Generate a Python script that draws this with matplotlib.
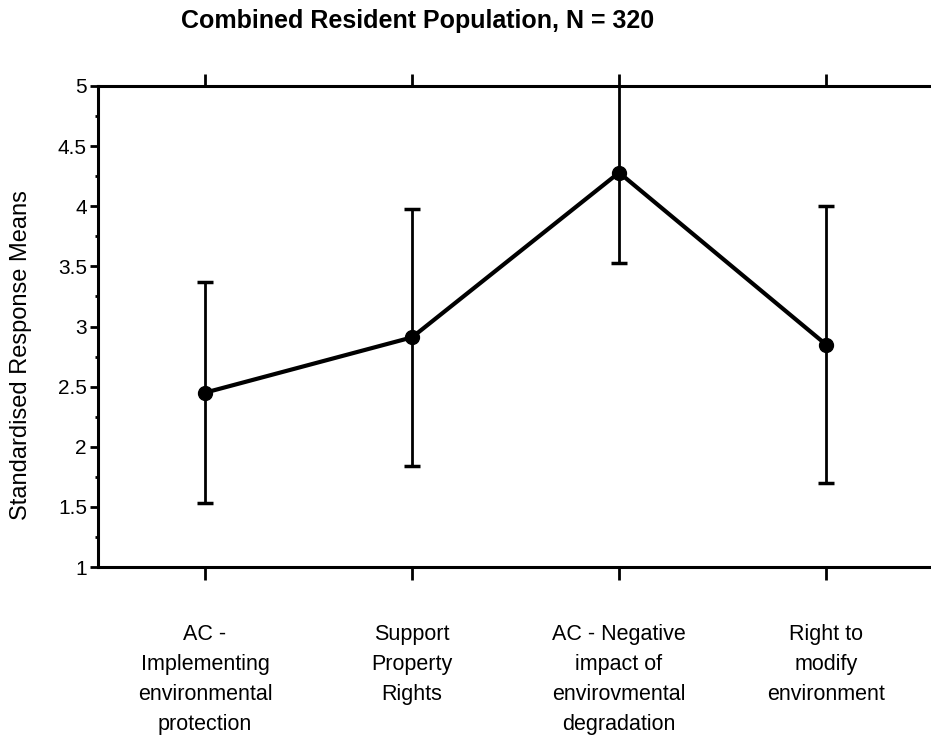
import matplotlib

matplotlib.use("Agg")
import matplotlib.pyplot as plt
from matplotlib.ticker import MultipleLocator

# data
categories = [
    "AC -\nImplementing\nenvironmental\nprotection",
    "Support\nProperty\nRights",
    "AC - Negative\nimpact of\nenvirovmental\ndegradation",
    "Right to\nmodify\nenvironment",
]
means = [2.45, 2.91, 4.28, 2.85]
err_sd = [0.92, 1.07, 0.75, 1.15]
y_ticks = [1, 1.5, 2, 2.5, 3, 3.5, 4, 4.5, 5]
y_labels = ["1", "1.5", "2", "2.5", "3", "3.5", "4", "4.5", "5"]

plt.rcParams["font.family"] = ["Liberation Sans", "DejaVu Sans"]

fig = plt.figure(figsize=(9.31, 7.42), dpi=100)
ax = fig.add_axes([0.1053, 0.2358, 0.8947, 0.6483])

x = list(range(len(categories)))
ax.errorbar(x, means, yerr=err_sd, color="black", lw=3, marker="o", ms=10,
            ecolor="black", elinewidth=2, capsize=5.5, capthick=2.5)

ax.set_xlim(-0.517, 3.507)
ax.set_ylim(1, 5)

ax.set_yticks(y_ticks)
ax.set_yticklabels(y_labels, fontsize=15)
ax.yaxis.set_minor_locator(MultipleLocator(0.25))
ax.tick_params(axis="y", which="major", direction="out", length=6, width=2, pad=2)
ax.tick_params(axis="y", which="minor", direction="out", length=2, width=2)

ax.set_xticks(x)
ax.set_xticklabels([])
ax.tick_params(axis="x", which="major", direction="out", length=9, width=2,
               top=True, bottom=True)

for sp in ["left", "top", "bottom"]:
    ax.spines[sp].set_linewidth(2.2)
ax.spines["right"].set_visible(False)

for xi, lab in zip(x, categories):
    ax.annotate(lab, xy=(xi, 1), xycoords="data", xytext=(0, -41),
                textcoords="offset points", ha="center", va="top",
                fontsize=15.5, linespacing=1.57)

fig.text(21 / 931, 1 - 355 / 742, "Standardised Response Means", rotation=90,
         ha="center", va="center", fontsize=17)
fig.text(0.448, 1 - 28 / 742, "Combined Resident Population, N = 320",
         ha="center", va="baseline", fontsize=18, fontweight="bold")

fig.savefig("out.png", dpi=100)
